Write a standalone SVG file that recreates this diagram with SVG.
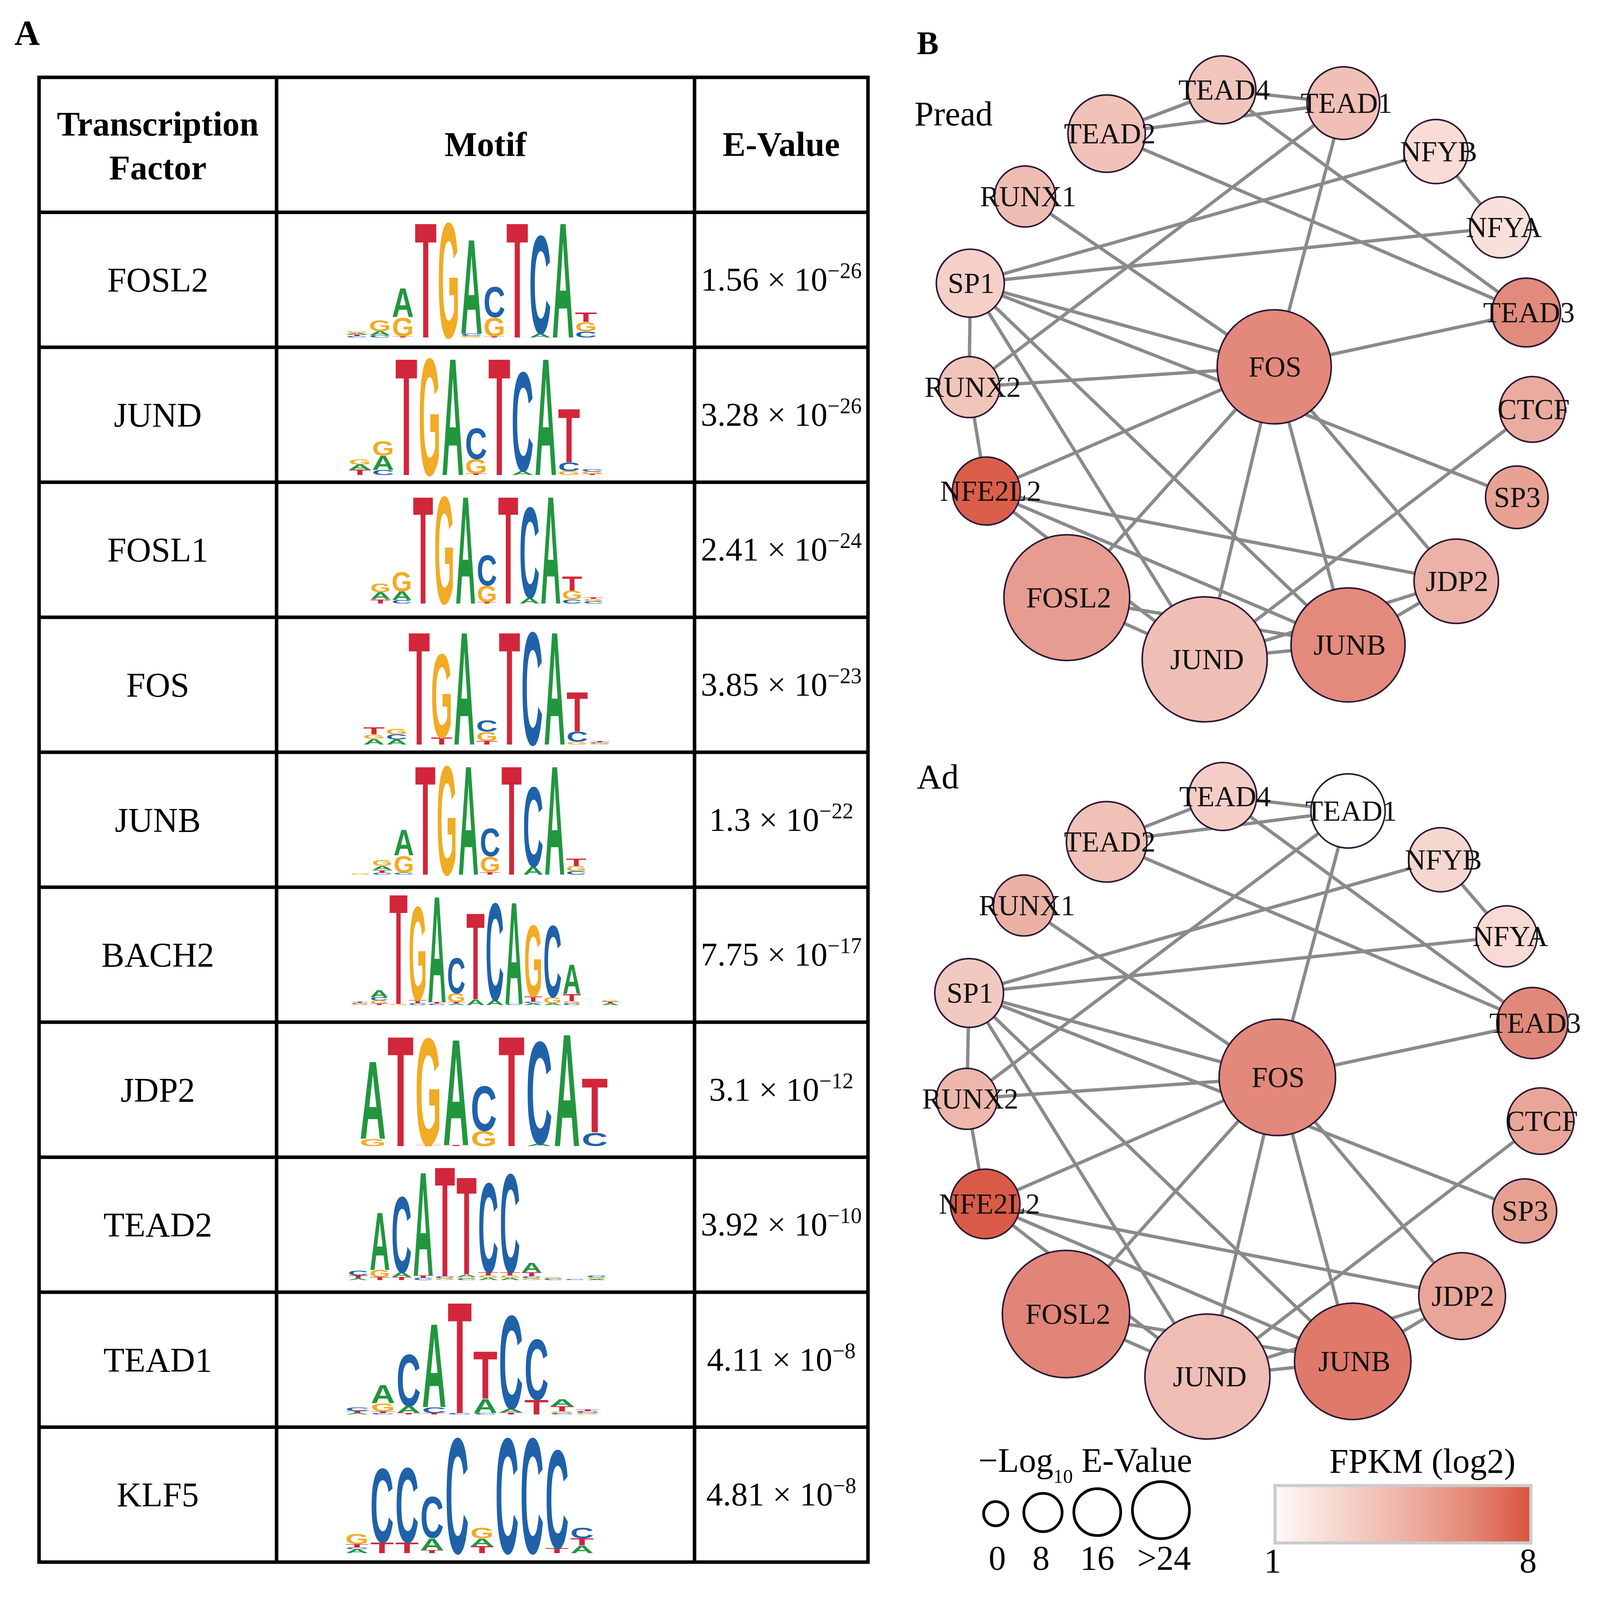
<svg xmlns="http://www.w3.org/2000/svg" width="4128" height="4096" viewBox="0 0 4128 4096">
<defs>
<style>
.tb{fill:none;stroke:#000;stroke-width:9}
.hd{font-family:"Liberation Serif",serif;font-weight:bold;font-size:88px;text-anchor:middle;fill:#000}
.tf{font-family:"Liberation Serif",serif;font-size:88px;text-anchor:middle;fill:#000}
.ev{font-family:"Liberation Serif",serif;font-size:85px;text-anchor:middle;fill:#000}
.sup{font-size:56px}
.lg text{font-family:"Liberation Sans",sans-serif;font-weight:bold}
.A{fill:#22963f}.C{fill:#1f62aa}.G{fill:#f1ab24}.T{fill:#d2263b}
.e{stroke:#8a8a8a;stroke-width:8.5;fill:none}
.n circle{stroke:#2b1838;stroke-width:4}
.n text{font-family:"Liberation Serif",serif;font-size:74px;text-anchor:middle;fill:#111}
.pl{font-family:"Liberation Serif",serif;font-size:88px;fill:#000}
.bl{font-family:"Liberation Serif",serif;font-weight:bold;fill:#000}
.lc{fill:none;stroke:#000;stroke-width:7}
</style>
<linearGradient id="fpkm" x1="0" y1="0" x2="1" y2="0">
<stop offset="0" stop-color="#fefaf9"/>
<stop offset="0.15" stop-color="#f9e4df"/>
<stop offset="0.5" stop-color="#eeb3a6"/>
<stop offset="0.75" stop-color="#e58a79"/>
<stop offset="1" stop-color="#d8553f"/>
</linearGradient>
</defs>
<rect width="4128" height="4096" fill="#fff"/>

<text class="bl" x="37" y="115" font-size="90">A</text>
<text class="bl" x="2347" y="139" font-size="84">B</text>

<g id="table">
<rect class="tb" x="100" y="198" width="2122" height="3801"/>
<path class="tb" d="M708 198V3999M1778 198V3999M100 543.5H2222M100 889H2222M100 1234.6H2222M100 1580.2H2222M100 1925.7H2222M100 2271.3H2222M100 2616.8H2222M100 2962.4H2222M100 3308H2222M100 3653.5H2222"/>
<text class="hd" x="404" y="347">Transcription</text>
<text class="hd" x="404" y="459">Factor</text>
<text class="hd" x="1243" y="399">Motif</text>
<text class="hd" x="2000" y="399">E-Value</text>
<text class="tf" x="404" y="746">FOSL2</text>
<text class="tf" x="404" y="1092">JUND</text>
<text class="tf" x="404" y="1437">FOSL1</text>
<text class="tf" x="404" y="1783">FOS</text>
<text class="tf" x="404" y="2129">JUNB</text>
<text class="tf" x="404" y="2474">BACH2</text>
<text class="tf" x="404" y="2820">JDP2</text>
<text class="tf" x="404" y="3165">TEAD2</text>
<text class="tf" x="404" y="3511">TEAD1</text>
<text class="tf" x="404" y="3856">KLF5</text>
<text class="ev" x="2000" y="744">1.56 × 10<tspan class="sup" dy="-32">−26</tspan></text>
<text class="ev" x="2000" y="1090">3.28 × 10<tspan class="sup" dy="-32">−26</tspan></text>
<text class="ev" x="2000" y="1435">2.41 × 10<tspan class="sup" dy="-32">−24</tspan></text>
<text class="ev" x="2000" y="1781">3.85 × 10<tspan class="sup" dy="-32">−23</tspan></text>
<text class="ev" x="2000" y="2127">1.3 × 10<tspan class="sup" dy="-32">−22</tspan></text>
<text class="ev" x="2000" y="2472">7.75 × 10<tspan class="sup" dy="-32">−17</tspan></text>
<text class="ev" x="2000" y="2818">3.1 × 10<tspan class="sup" dy="-32">−12</tspan></text>
<text class="ev" x="2000" y="3163">3.92 × 10<tspan class="sup" dy="-32">−10</tspan></text>
<text class="ev" x="2000" y="3509">4.11 × 10<tspan class="sup" dy="-32">−8</tspan></text>
<text class="ev" x="2000" y="3854">4.81 × 10<tspan class="sup" dy="-32">−8</tspan></text>
</g>

<g id="logo-FOSL2" class="lg" transform="translate(886,864)">
<text class="C" x="0" y="0" font-size="5.6" textLength="56" lengthAdjust="spacingAndGlyphs">C</text>
<text class="T" x="0" y="-4" font-size="5.6" textLength="56" lengthAdjust="spacingAndGlyphs">T</text>
<text class="A" x="0" y="-8" font-size="5.6" textLength="56" lengthAdjust="spacingAndGlyphs">A</text>
<text class="G" x="0" y="-12" font-size="5.6" textLength="56" lengthAdjust="spacingAndGlyphs">G</text>
<text class="C" x="58.6" y="0" font-size="8.4" textLength="56" lengthAdjust="spacingAndGlyphs">C</text>
<text class="A" x="58.6" y="-6" font-size="14" textLength="56" lengthAdjust="spacingAndGlyphs">A</text>
<text class="G" x="58.6" y="-16" font-size="40.5" textLength="56" lengthAdjust="spacingAndGlyphs">G</text>
<text class="T" x="117.2" y="0" font-size="4.2" textLength="56" lengthAdjust="spacingAndGlyphs">T</text>
<text class="G" x="117.2" y="-3" font-size="68.5" textLength="56" lengthAdjust="spacingAndGlyphs">G</text>
<text class="A" x="117.2" y="-52" font-size="104.8" textLength="56" lengthAdjust="spacingAndGlyphs">A</text>
<text class="T" x="175.8" y="0" font-size="421.9" textLength="56" lengthAdjust="spacingAndGlyphs">T</text>
<text class="G" x="234.4" y="0" font-size="421.9" textLength="56" lengthAdjust="spacingAndGlyphs">G</text>
<text class="G" x="293" y="0" font-size="5.6" textLength="56" lengthAdjust="spacingAndGlyphs">G</text>
<text class="C" x="293" y="-4" font-size="8.4" textLength="56" lengthAdjust="spacingAndGlyphs">C</text>
<text class="A" x="293" y="-10" font-size="346.5" textLength="56" lengthAdjust="spacingAndGlyphs">A</text>
<text class="T" x="351.6" y="0" font-size="4.2" textLength="56" lengthAdjust="spacingAndGlyphs">T</text>
<text class="G" x="351.6" y="-3" font-size="68.5" textLength="56" lengthAdjust="spacingAndGlyphs">G</text>
<text class="C" x="351.6" y="-52" font-size="111.8" textLength="56" lengthAdjust="spacingAndGlyphs">C</text>
<text class="T" x="410.2" y="0" font-size="421.9" textLength="56" lengthAdjust="spacingAndGlyphs">T</text>
<text class="A" x="468.8" y="0" font-size="15.4" textLength="56" lengthAdjust="spacingAndGlyphs">A</text>
<text class="C" x="468.8" y="-11" font-size="359" textLength="56" lengthAdjust="spacingAndGlyphs">C</text>
<text class="A" x="527.4" y="0" font-size="421.9" textLength="56" lengthAdjust="spacingAndGlyphs">A</text>
<text class="C" x="586" y="0" font-size="22.4" textLength="56" lengthAdjust="spacingAndGlyphs">C</text>
<text class="G" x="586" y="-16" font-size="33.5" textLength="56" lengthAdjust="spacingAndGlyphs">G</text>
<text class="T" x="586" y="-40" font-size="34.9" textLength="56" lengthAdjust="spacingAndGlyphs">T</text>
</g>

<g id="logo-JUND" class="lg" transform="translate(893,1216)">
<text class="T" x="0" y="0" font-size="19.6" textLength="56.5" lengthAdjust="spacingAndGlyphs">T</text>
<text class="A" x="0" y="-14" font-size="18.2" textLength="56.5" lengthAdjust="spacingAndGlyphs">A</text>
<text class="G" x="0" y="-27" font-size="18.2" textLength="56.5" lengthAdjust="spacingAndGlyphs">G</text>
<text class="C" x="59.5" y="0" font-size="18.2" textLength="56.5" lengthAdjust="spacingAndGlyphs">C</text>
<text class="A" x="59.5" y="-13" font-size="51.7" textLength="56.5" lengthAdjust="spacingAndGlyphs">A</text>
<text class="G" x="59.5" y="-50" font-size="51.7" textLength="56.5" lengthAdjust="spacingAndGlyphs">G</text>
<text class="T" x="119" y="0" font-size="428.9" textLength="56.5" lengthAdjust="spacingAndGlyphs">T</text>
<text class="G" x="178.5" y="0" font-size="428.9" textLength="56.5" lengthAdjust="spacingAndGlyphs">G</text>
<text class="A" x="238" y="0" font-size="428.9" textLength="56.5" lengthAdjust="spacingAndGlyphs">A</text>
<text class="T" x="297.5" y="0" font-size="5.6" textLength="56.5" lengthAdjust="spacingAndGlyphs">T</text>
<text class="G" x="297.5" y="-4" font-size="51.7" textLength="56.5" lengthAdjust="spacingAndGlyphs">G</text>
<text class="C" x="297.5" y="-41" font-size="113.2" textLength="56.5" lengthAdjust="spacingAndGlyphs">C</text>
<text class="T" x="357" y="0" font-size="428.9" textLength="56.5" lengthAdjust="spacingAndGlyphs">T</text>
<text class="A" x="416.5" y="0" font-size="15.4" textLength="56.5" lengthAdjust="spacingAndGlyphs">A</text>
<text class="C" x="416.5" y="-11" font-size="363.2" textLength="56.5" lengthAdjust="spacingAndGlyphs">C</text>
<text class="A" x="476" y="0" font-size="428.9" textLength="56.5" lengthAdjust="spacingAndGlyphs">A</text>
<text class="G" x="535.5" y="0" font-size="14" textLength="56.5" lengthAdjust="spacingAndGlyphs">G</text>
<text class="C" x="535.5" y="-10" font-size="30.7" textLength="56.5" lengthAdjust="spacingAndGlyphs">C</text>
<text class="T" x="535.5" y="-32" font-size="197" textLength="56.5" lengthAdjust="spacingAndGlyphs">T</text>
<text class="T" x="595" y="0" font-size="4.2" textLength="56.5" lengthAdjust="spacingAndGlyphs">T</text>
<text class="G" x="595" y="-3" font-size="8.4" textLength="56.5" lengthAdjust="spacingAndGlyphs">G</text>
<text class="C" x="595" y="-9" font-size="9.8" textLength="56.5" lengthAdjust="spacingAndGlyphs">C</text>
</g>

<g id="logo-FOSL1" class="lg" transform="translate(948,1545)">
<text class="T" x="0" y="0" font-size="15.4" textLength="52" lengthAdjust="spacingAndGlyphs">T</text>
<text class="A" x="0" y="-11" font-size="25.1" textLength="52" lengthAdjust="spacingAndGlyphs">A</text>
<text class="G" x="0" y="-29" font-size="30.7" textLength="52" lengthAdjust="spacingAndGlyphs">G</text>
<text class="C" x="54.5" y="0" font-size="12.6" textLength="52" lengthAdjust="spacingAndGlyphs">C</text>
<text class="A" x="54.5" y="-9" font-size="30.7" textLength="52" lengthAdjust="spacingAndGlyphs">A</text>
<text class="G" x="54.5" y="-31" font-size="71.2" textLength="52" lengthAdjust="spacingAndGlyphs">G</text>
<text class="T" x="109" y="0" font-size="394" textLength="52" lengthAdjust="spacingAndGlyphs">T</text>
<text class="G" x="163.5" y="0" font-size="394" textLength="52" lengthAdjust="spacingAndGlyphs">G</text>
<text class="A" x="218" y="0" font-size="394" textLength="52" lengthAdjust="spacingAndGlyphs">A</text>
<text class="T" x="272.5" y="0" font-size="5.6" textLength="52" lengthAdjust="spacingAndGlyphs">T</text>
<text class="G" x="272.5" y="-4" font-size="58.7" textLength="52" lengthAdjust="spacingAndGlyphs">G</text>
<text class="C" x="272.5" y="-46" font-size="110.4" textLength="52" lengthAdjust="spacingAndGlyphs">C</text>
<text class="T" x="327" y="0" font-size="394" textLength="52" lengthAdjust="spacingAndGlyphs">T</text>
<text class="A" x="381.5" y="0" font-size="21" textLength="52" lengthAdjust="spacingAndGlyphs">A</text>
<text class="C" x="381.5" y="-15" font-size="332.5" textLength="52" lengthAdjust="spacingAndGlyphs">C</text>
<text class="A" x="436" y="0" font-size="394" textLength="52" lengthAdjust="spacingAndGlyphs">A</text>
<text class="C" x="490.5" y="0" font-size="15.4" textLength="52" lengthAdjust="spacingAndGlyphs">C</text>
<text class="G" x="490.5" y="-11" font-size="30.7" textLength="52" lengthAdjust="spacingAndGlyphs">G</text>
<text class="T" x="490.5" y="-33" font-size="51.7" textLength="52" lengthAdjust="spacingAndGlyphs">T</text>
<text class="C" x="545" y="0" font-size="8.4" textLength="52" lengthAdjust="spacingAndGlyphs">C</text>
<text class="G" x="545" y="-6" font-size="8.4" textLength="52" lengthAdjust="spacingAndGlyphs">G</text>
<text class="T" x="545" y="-12" font-size="5.6" textLength="52" lengthAdjust="spacingAndGlyphs">T</text>
</g>

<g id="logo-FOS" class="lg" transform="translate(930,1906)">
<text class="A" x="0" y="0" font-size="21" textLength="55" lengthAdjust="spacingAndGlyphs">A</text>
<text class="G" x="0" y="-15" font-size="15.4" textLength="55" lengthAdjust="spacingAndGlyphs">G</text>
<text class="T" x="0" y="-26" font-size="25.1" textLength="55" lengthAdjust="spacingAndGlyphs">T</text>
<text class="A" x="57.8" y="0" font-size="18.2" textLength="55" lengthAdjust="spacingAndGlyphs">A</text>
<text class="C" x="57.8" y="-13" font-size="18.2" textLength="55" lengthAdjust="spacingAndGlyphs">C</text>
<text class="G" x="57.8" y="-26" font-size="21" textLength="55" lengthAdjust="spacingAndGlyphs">G</text>
<text class="T" x="115.6" y="0" font-size="413.5" textLength="55" lengthAdjust="spacingAndGlyphs">T</text>
<text class="T" x="173.4" y="0" font-size="25.1" textLength="55" lengthAdjust="spacingAndGlyphs">T</text>
<text class="G" x="173.4" y="-18" font-size="307.3" textLength="55" lengthAdjust="spacingAndGlyphs">G</text>
<text class="A" x="231.2" y="0" font-size="413.5" textLength="55" lengthAdjust="spacingAndGlyphs">A</text>
<text class="T" x="289" y="0" font-size="12.6" textLength="55" lengthAdjust="spacingAndGlyphs">T</text>
<text class="G" x="289" y="-9" font-size="33.5" textLength="55" lengthAdjust="spacingAndGlyphs">G</text>
<text class="C" x="289" y="-33" font-size="43.3" textLength="55" lengthAdjust="spacingAndGlyphs">C</text>
<text class="T" x="346.8" y="0" font-size="413.5" textLength="55" lengthAdjust="spacingAndGlyphs">T</text>
<text class="C" x="404.6" y="0" font-size="413.5" textLength="55" lengthAdjust="spacingAndGlyphs">C</text>
<text class="A" x="462.4" y="0" font-size="413.5" textLength="55" lengthAdjust="spacingAndGlyphs">A</text>
<text class="G" x="520.2" y="0" font-size="9.8" textLength="55" lengthAdjust="spacingAndGlyphs">G</text>
<text class="C" x="520.2" y="-7" font-size="36.3" textLength="55" lengthAdjust="spacingAndGlyphs">C</text>
<text class="T" x="520.2" y="-33" font-size="145.3" textLength="55" lengthAdjust="spacingAndGlyphs">T</text>
<text class="G" x="578" y="0" font-size="4.2" textLength="55" lengthAdjust="spacingAndGlyphs">G</text>
<text class="C" x="578" y="-3" font-size="4.2" textLength="55" lengthAdjust="spacingAndGlyphs">C</text>
<text class="T" x="578" y="-6" font-size="4.2" textLength="55" lengthAdjust="spacingAndGlyphs">T</text>
</g>

<g id="logo-JUNB" class="lg" transform="translate(897,2239)">
<text class="G" x="0" y="0" font-size="4.2" textLength="52.5" lengthAdjust="spacingAndGlyphs">G</text>
<text class="C" x="55.2" y="0" font-size="7" textLength="52.5" lengthAdjust="spacingAndGlyphs">C</text>
<text class="T" x="55.2" y="-5" font-size="9.8" textLength="52.5" lengthAdjust="spacingAndGlyphs">T</text>
<text class="A" x="55.2" y="-12" font-size="15.4" textLength="52.5" lengthAdjust="spacingAndGlyphs">A</text>
<text class="G" x="55.2" y="-23" font-size="21" textLength="52.5" lengthAdjust="spacingAndGlyphs">G</text>
<text class="C" x="110.4" y="0" font-size="7" textLength="52.5" lengthAdjust="spacingAndGlyphs">C</text>
<text class="G" x="110.4" y="-5" font-size="61.5" textLength="52.5" lengthAdjust="spacingAndGlyphs">G</text>
<text class="A" x="110.4" y="-49" font-size="95" textLength="52.5" lengthAdjust="spacingAndGlyphs">A</text>
<text class="T" x="165.6" y="0" font-size="399.5" textLength="52.5" lengthAdjust="spacingAndGlyphs">T</text>
<text class="G" x="220.8" y="0" font-size="399.5" textLength="52.5" lengthAdjust="spacingAndGlyphs">G</text>
<text class="A" x="276" y="0" font-size="399.5" textLength="52.5" lengthAdjust="spacingAndGlyphs">A</text>
<text class="T" x="331.2" y="0" font-size="9.8" textLength="52.5" lengthAdjust="spacingAndGlyphs">T</text>
<text class="G" x="331.2" y="-7" font-size="55.9" textLength="52.5" lengthAdjust="spacingAndGlyphs">G</text>
<text class="C" x="331.2" y="-47" font-size="102" textLength="52.5" lengthAdjust="spacingAndGlyphs">C</text>
<text class="T" x="386.4" y="0" font-size="399.5" textLength="52.5" lengthAdjust="spacingAndGlyphs">T</text>
<text class="A" x="441.6" y="0" font-size="29.3" textLength="52.5" lengthAdjust="spacingAndGlyphs">A</text>
<text class="C" x="441.6" y="-21" font-size="292" textLength="52.5" lengthAdjust="spacingAndGlyphs">C</text>
<text class="A" x="496.8" y="0" font-size="399.5" textLength="52.5" lengthAdjust="spacingAndGlyphs">A</text>
<text class="C" x="552" y="0" font-size="12.6" textLength="52.5" lengthAdjust="spacingAndGlyphs">C</text>
<text class="G" x="552" y="-9" font-size="18.2" textLength="52.5" lengthAdjust="spacingAndGlyphs">G</text>
<text class="T" x="552" y="-22" font-size="27.9" textLength="52.5" lengthAdjust="spacingAndGlyphs">T</text>
</g>

<g id="logo-BACH2" class="lg" transform="translate(898,2573)">
<text class="G" x="0" y="0" font-size="4.2" textLength="47" lengthAdjust="spacingAndGlyphs">G</text>
<text class="C" x="0" y="-3" font-size="4.2" textLength="47" lengthAdjust="spacingAndGlyphs">C</text>
<text class="T" x="0" y="-6" font-size="2.8" textLength="47" lengthAdjust="spacingAndGlyphs">T</text>
<text class="T" x="49.3" y="0" font-size="5.6" textLength="47" lengthAdjust="spacingAndGlyphs">T</text>
<text class="G" x="49.3" y="-4" font-size="11.2" textLength="47" lengthAdjust="spacingAndGlyphs">G</text>
<text class="C" x="49.3" y="-12" font-size="11.2" textLength="47" lengthAdjust="spacingAndGlyphs">C</text>
<text class="A" x="49.3" y="-20" font-size="25.1" textLength="47" lengthAdjust="spacingAndGlyphs">A</text>
<text class="G" x="98.6" y="0" font-size="4.2" textLength="47" lengthAdjust="spacingAndGlyphs">G</text>
<text class="T" x="98.6" y="-3" font-size="403.7" textLength="47" lengthAdjust="spacingAndGlyphs">T</text>
<text class="C" x="147.9" y="0" font-size="7" textLength="47" lengthAdjust="spacingAndGlyphs">C</text>
<text class="T" x="147.9" y="-5" font-size="11.2" textLength="47" lengthAdjust="spacingAndGlyphs">T</text>
<text class="G" x="147.9" y="-13" font-size="343.7" textLength="47" lengthAdjust="spacingAndGlyphs">G</text>
<text class="C" x="197.2" y="0" font-size="5.6" textLength="47" lengthAdjust="spacingAndGlyphs">C</text>
<text class="T" x="197.2" y="-4" font-size="5.6" textLength="47" lengthAdjust="spacingAndGlyphs">T</text>
<text class="A" x="197.2" y="-8" font-size="388.4" textLength="47" lengthAdjust="spacingAndGlyphs">A</text>
<text class="A" x="246.5" y="0" font-size="5.6" textLength="47" lengthAdjust="spacingAndGlyphs">A</text>
<text class="T" x="246.5" y="-4" font-size="5.6" textLength="47" lengthAdjust="spacingAndGlyphs">T</text>
<text class="G" x="246.5" y="-8" font-size="30.7" textLength="47" lengthAdjust="spacingAndGlyphs">G</text>
<text class="C" x="246.5" y="-30" font-size="129.9" textLength="47" lengthAdjust="spacingAndGlyphs">C</text>
<text class="A" x="295.8" y="0" font-size="21" textLength="47" lengthAdjust="spacingAndGlyphs">A</text>
<text class="T" x="295.8" y="-15" font-size="317.1" textLength="47" lengthAdjust="spacingAndGlyphs">T</text>
<text class="A" x="345.1" y="0" font-size="18.2" textLength="47" lengthAdjust="spacingAndGlyphs">A</text>
<text class="C" x="345.1" y="-13" font-size="356.2" textLength="47" lengthAdjust="spacingAndGlyphs">C</text>
<text class="C" x="394.4" y="0" font-size="4.2" textLength="47" lengthAdjust="spacingAndGlyphs">C</text>
<text class="A" x="394.4" y="-3" font-size="374.4" textLength="47" lengthAdjust="spacingAndGlyphs">A</text>
<text class="A" x="443.7" y="0" font-size="7" textLength="47" lengthAdjust="spacingAndGlyphs">A</text>
<text class="C" x="443.7" y="-5" font-size="5.6" textLength="47" lengthAdjust="spacingAndGlyphs">C</text>
<text class="T" x="443.7" y="-9" font-size="18.2" textLength="47" lengthAdjust="spacingAndGlyphs">T</text>
<text class="G" x="443.7" y="-22" font-size="262.6" textLength="47" lengthAdjust="spacingAndGlyphs">G</text>
<text class="A" x="493" y="0" font-size="7" textLength="47" lengthAdjust="spacingAndGlyphs">A</text>
<text class="G" x="493" y="-5" font-size="22.4" textLength="47" lengthAdjust="spacingAndGlyphs">G</text>
<text class="C" x="493" y="-21" font-size="262.6" textLength="47" lengthAdjust="spacingAndGlyphs">C</text>
<text class="C" x="542.3" y="0" font-size="7" textLength="47" lengthAdjust="spacingAndGlyphs">C</text>
<text class="G" x="542.3" y="-5" font-size="7" textLength="47" lengthAdjust="spacingAndGlyphs">G</text>
<text class="T" x="542.3" y="-10" font-size="26.5" textLength="47" lengthAdjust="spacingAndGlyphs">T</text>
<text class="A" x="542.3" y="-29" font-size="107.6" textLength="47" lengthAdjust="spacingAndGlyphs">A</text>
<text class="A" x="640.9" y="0" font-size="7" textLength="47" lengthAdjust="spacingAndGlyphs">A</text>
<text class="T" x="640.9" y="-5" font-size="5.6" textLength="47" lengthAdjust="spacingAndGlyphs">T</text>
<text class="G" x="640.9" y="-9" font-size="5.6" textLength="47" lengthAdjust="spacingAndGlyphs">G</text>
</g>

<g id="logo-JDP2" class="lg" transform="translate(921,2934)">
<text class="G" x="0" y="0" font-size="26.5" textLength="67" lengthAdjust="spacingAndGlyphs">G</text>
<text class="A" x="0" y="-19" font-size="285" textLength="67" lengthAdjust="spacingAndGlyphs">A</text>
<text class="T" x="71" y="0" font-size="403.7" textLength="67" lengthAdjust="spacingAndGlyphs">T</text>
<text class="T" x="142" y="0" font-size="4.2" textLength="67" lengthAdjust="spacingAndGlyphs">T</text>
<text class="G" x="142" y="-3" font-size="392.6" textLength="67" lengthAdjust="spacingAndGlyphs">G</text>
<text class="T" x="213" y="0" font-size="4.2" textLength="67" lengthAdjust="spacingAndGlyphs">T</text>
<text class="A" x="213" y="-3" font-size="388.4" textLength="67" lengthAdjust="spacingAndGlyphs">A</text>
<text class="G" x="284" y="0" font-size="55.9" textLength="67" lengthAdjust="spacingAndGlyphs">G</text>
<text class="C" x="284" y="-40" font-size="163.4" textLength="67" lengthAdjust="spacingAndGlyphs">C</text>
<text class="T" x="355" y="0" font-size="403.7" textLength="67" lengthAdjust="spacingAndGlyphs">T</text>
<text class="A" x="426" y="0" font-size="8.4" textLength="67" lengthAdjust="spacingAndGlyphs">A</text>
<text class="C" x="426" y="-6" font-size="375.8" textLength="67" lengthAdjust="spacingAndGlyphs">C</text>
<text class="A" x="497" y="0" font-size="412.1" textLength="67" lengthAdjust="spacingAndGlyphs">A</text>
<text class="C" x="568" y="0" font-size="48.9" textLength="67" lengthAdjust="spacingAndGlyphs">C</text>
<text class="T" x="568" y="-35" font-size="198.4" textLength="67" lengthAdjust="spacingAndGlyphs">T</text>
</g>

<g id="logo-TEAD2" class="lg" transform="translate(891,3277)">
<text class="A" x="0" y="0" font-size="5.6" textLength="52" lengthAdjust="spacingAndGlyphs">A</text>
<text class="T" x="0" y="-4" font-size="11.2" textLength="52" lengthAdjust="spacingAndGlyphs">T</text>
<text class="C" x="0" y="-12" font-size="16.8" textLength="52" lengthAdjust="spacingAndGlyphs">C</text>
<text class="T" x="55.5" y="0" font-size="11.2" textLength="52" lengthAdjust="spacingAndGlyphs">T</text>
<text class="G" x="55.5" y="-8" font-size="25.1" textLength="52" lengthAdjust="spacingAndGlyphs">G</text>
<text class="A" x="55.5" y="-26" font-size="212.3" textLength="52" lengthAdjust="spacingAndGlyphs">A</text>
<text class="T" x="111" y="0" font-size="11.2" textLength="52" lengthAdjust="spacingAndGlyphs">T</text>
<text class="A" x="111" y="-8" font-size="16.8" textLength="52" lengthAdjust="spacingAndGlyphs">A</text>
<text class="C" x="111" y="-20" font-size="278" textLength="52" lengthAdjust="spacingAndGlyphs">C</text>
<text class="C" x="166.5" y="0" font-size="8.4" textLength="52" lengthAdjust="spacingAndGlyphs">C</text>
<text class="T" x="166.5" y="-6" font-size="8.4" textLength="52" lengthAdjust="spacingAndGlyphs">T</text>
<text class="A" x="166.5" y="-12" font-size="380" textLength="52" lengthAdjust="spacingAndGlyphs">A</text>
<text class="G" x="222" y="0" font-size="7" textLength="52" lengthAdjust="spacingAndGlyphs">G</text>
<text class="C" x="222" y="-5" font-size="7" textLength="52" lengthAdjust="spacingAndGlyphs">C</text>
<text class="T" x="222" y="-10" font-size="402.3" textLength="52" lengthAdjust="spacingAndGlyphs">T</text>
<text class="C" x="277.5" y="0" font-size="5.6" textLength="52" lengthAdjust="spacingAndGlyphs">C</text>
<text class="G" x="277.5" y="-4" font-size="5.6" textLength="52" lengthAdjust="spacingAndGlyphs">G</text>
<text class="A" x="277.5" y="-8" font-size="9.8" textLength="52" lengthAdjust="spacingAndGlyphs">A</text>
<text class="T" x="277.5" y="-15" font-size="357.6" textLength="52" lengthAdjust="spacingAndGlyphs">T</text>
<text class="A" x="333" y="0" font-size="8.4" textLength="52" lengthAdjust="spacingAndGlyphs">A</text>
<text class="G" x="333" y="-6" font-size="8.4" textLength="52" lengthAdjust="spacingAndGlyphs">G</text>
<text class="T" x="333" y="-12" font-size="11.2" textLength="52" lengthAdjust="spacingAndGlyphs">T</text>
<text class="C" x="333" y="-20" font-size="328.3" textLength="52" lengthAdjust="spacingAndGlyphs">C</text>
<text class="A" x="388.5" y="0" font-size="8.4" textLength="52" lengthAdjust="spacingAndGlyphs">A</text>
<text class="G" x="388.5" y="-6" font-size="8.4" textLength="52" lengthAdjust="spacingAndGlyphs">G</text>
<text class="T" x="388.5" y="-12" font-size="11.2" textLength="52" lengthAdjust="spacingAndGlyphs">T</text>
<text class="C" x="388.5" y="-20" font-size="361.8" textLength="52" lengthAdjust="spacingAndGlyphs">C</text>
<text class="G" x="444" y="0" font-size="7" textLength="52" lengthAdjust="spacingAndGlyphs">G</text>
<text class="C" x="444" y="-5" font-size="7" textLength="52" lengthAdjust="spacingAndGlyphs">C</text>
<text class="T" x="444" y="-10" font-size="14" textLength="52" lengthAdjust="spacingAndGlyphs">T</text>
<text class="A" x="444" y="-20" font-size="34.9" textLength="52" lengthAdjust="spacingAndGlyphs">A</text>
<text class="C" x="499.5" y="0" font-size="5.6" textLength="52" lengthAdjust="spacingAndGlyphs">C</text>
<text class="G" x="499.5" y="-4" font-size="5.6" textLength="52" lengthAdjust="spacingAndGlyphs">G</text>
<text class="C" x="555" y="0" font-size="2.8" textLength="52" lengthAdjust="spacingAndGlyphs">C</text>
<text class="A" x="610.5" y="0" font-size="4.2" textLength="52" lengthAdjust="spacingAndGlyphs">A</text>
<text class="G" x="610.5" y="-3" font-size="5.6" textLength="52" lengthAdjust="spacingAndGlyphs">G</text>
<text class="C" x="610.5" y="-7" font-size="7" textLength="52" lengthAdjust="spacingAndGlyphs">C</text>
</g>

<g id="logo-TEAD1" class="lg" transform="translate(884,3621)">
<text class="A" x="0" y="0" font-size="5.6" textLength="62" lengthAdjust="spacingAndGlyphs">A</text>
<text class="T" x="0" y="-4" font-size="7" textLength="62" lengthAdjust="spacingAndGlyphs">T</text>
<text class="C" x="0" y="-9" font-size="12.6" textLength="62" lengthAdjust="spacingAndGlyphs">C</text>
<text class="C" x="65.5" y="0" font-size="5.6" textLength="62" lengthAdjust="spacingAndGlyphs">C</text>
<text class="T" x="65.5" y="-4" font-size="5.6" textLength="62" lengthAdjust="spacingAndGlyphs">T</text>
<text class="G" x="65.5" y="-8" font-size="29.3" textLength="62" lengthAdjust="spacingAndGlyphs">G</text>
<text class="A" x="65.5" y="-29" font-size="67.1" textLength="62" lengthAdjust="spacingAndGlyphs">A</text>
<text class="T" x="131" y="0" font-size="5.6" textLength="62" lengthAdjust="spacingAndGlyphs">T</text>
<text class="A" x="131" y="-4" font-size="25.1" textLength="62" lengthAdjust="spacingAndGlyphs">A</text>
<text class="C" x="131" y="-22" font-size="188.6" textLength="62" lengthAdjust="spacingAndGlyphs">C</text>
<text class="T" x="196.5" y="0" font-size="5.6" textLength="62" lengthAdjust="spacingAndGlyphs">T</text>
<text class="C" x="196.5" y="-4" font-size="21" textLength="62" lengthAdjust="spacingAndGlyphs">C</text>
<text class="A" x="196.5" y="-19" font-size="306" textLength="62" lengthAdjust="spacingAndGlyphs">A</text>
<text class="C" x="262" y="0" font-size="5.6" textLength="62" lengthAdjust="spacingAndGlyphs">C</text>
<text class="T" x="262" y="-4" font-size="406.5" textLength="62" lengthAdjust="spacingAndGlyphs">T</text>
<text class="C" x="327.5" y="0" font-size="5.6" textLength="62" lengthAdjust="spacingAndGlyphs">C</text>
<text class="A" x="327.5" y="-4" font-size="50.3" textLength="62" lengthAdjust="spacingAndGlyphs">A</text>
<text class="T" x="327.5" y="-40" font-size="174.6" textLength="62" lengthAdjust="spacingAndGlyphs">T</text>
<text class="T" x="393" y="0" font-size="7" textLength="62" lengthAdjust="spacingAndGlyphs">T</text>
<text class="A" x="393" y="-5" font-size="14" textLength="62" lengthAdjust="spacingAndGlyphs">A</text>
<text class="C" x="393" y="-15" font-size="342.3" textLength="62" lengthAdjust="spacingAndGlyphs">C</text>
<text class="T" x="458.5" y="0" font-size="53.1" textLength="62" lengthAdjust="spacingAndGlyphs">T</text>
<text class="C" x="458.5" y="-38" font-size="220.7" textLength="62" lengthAdjust="spacingAndGlyphs">C</text>
<text class="C" x="524" y="0" font-size="5.6" textLength="62" lengthAdjust="spacingAndGlyphs">C</text>
<text class="G" x="524" y="-4" font-size="5.6" textLength="62" lengthAdjust="spacingAndGlyphs">G</text>
<text class="T" x="524" y="-8" font-size="18.2" textLength="62" lengthAdjust="spacingAndGlyphs">T</text>
<text class="A" x="524" y="-21" font-size="25.1" textLength="62" lengthAdjust="spacingAndGlyphs">A</text>
<text class="G" x="589.5" y="0" font-size="5.6" textLength="62" lengthAdjust="spacingAndGlyphs">G</text>
<text class="C" x="589.5" y="-4" font-size="7" textLength="62" lengthAdjust="spacingAndGlyphs">C</text>
<text class="T" x="589.5" y="-9" font-size="5.6" textLength="62" lengthAdjust="spacingAndGlyphs">T</text>
</g>

<g id="logo-KLF5" class="lg" transform="translate(884,3976)">
<text class="A" x="0" y="0" font-size="14" textLength="60" lengthAdjust="spacingAndGlyphs">A</text>
<text class="C" x="0" y="-10" font-size="7" textLength="60" lengthAdjust="spacingAndGlyphs">C</text>
<text class="T" x="0" y="-15" font-size="11.2" textLength="60" lengthAdjust="spacingAndGlyphs">T</text>
<text class="G" x="0" y="-23" font-size="36.3" textLength="60" lengthAdjust="spacingAndGlyphs">G</text>
<text class="T" x="64" y="0" font-size="39.1" textLength="60" lengthAdjust="spacingAndGlyphs">T</text>
<text class="C" x="64" y="-28" font-size="271" textLength="60" lengthAdjust="spacingAndGlyphs">C</text>
<text class="T" x="128" y="0" font-size="39.1" textLength="60" lengthAdjust="spacingAndGlyphs">T</text>
<text class="C" x="128" y="-28" font-size="273.8" textLength="60" lengthAdjust="spacingAndGlyphs">C</text>
<text class="T" x="192" y="0" font-size="11.2" textLength="60" lengthAdjust="spacingAndGlyphs">T</text>
<text class="A" x="192" y="-8" font-size="43.3" textLength="60" lengthAdjust="spacingAndGlyphs">A</text>
<text class="C" x="192" y="-39" font-size="149.5" textLength="60" lengthAdjust="spacingAndGlyphs">C</text>
<text class="C" x="256" y="0" font-size="423.3" textLength="60" lengthAdjust="spacingAndGlyphs">C</text>
<text class="T" x="320" y="0" font-size="25.1" textLength="60" lengthAdjust="spacingAndGlyphs">T</text>
<text class="A" x="320" y="-18" font-size="27.9" textLength="60" lengthAdjust="spacingAndGlyphs">A</text>
<text class="G" x="320" y="-38" font-size="39.1" textLength="60" lengthAdjust="spacingAndGlyphs">G</text>
<text class="C" x="384" y="0" font-size="423.3" textLength="60" lengthAdjust="spacingAndGlyphs">C</text>
<text class="C" x="448" y="0" font-size="423.3" textLength="60" lengthAdjust="spacingAndGlyphs">C</text>
<text class="T" x="512" y="0" font-size="18.2" textLength="60" lengthAdjust="spacingAndGlyphs">T</text>
<text class="C" x="512" y="-13" font-size="360.4" textLength="60" lengthAdjust="spacingAndGlyphs">C</text>
<text class="A" x="576" y="0" font-size="27.9" textLength="60" lengthAdjust="spacingAndGlyphs">A</text>
<text class="T" x="576" y="-20" font-size="25.1" textLength="60" lengthAdjust="spacingAndGlyphs">T</text>
<text class="C" x="576" y="-38" font-size="39.1" textLength="60" lengthAdjust="spacingAndGlyphs">C</text>
</g>

<text class="pl" x="2341" y="321">Pread</text>
<text class="pl" x="2347" y="2018">Ad</text>

<g id="edges-pread" class="e">
<line x1="2833" y1="342" x2="3128" y2="230"/>
<line x1="2833" y1="342" x2="3439" y2="264"/>
<line x1="3128" y1="230" x2="3439" y2="264"/>
<line x1="3128" y1="230" x2="3907" y2="800"/>
<line x1="2833" y1="342" x2="3907" y2="800"/>
<line x1="3439" y1="264" x2="2481" y2="991"/>
<line x1="3439" y1="264" x2="3262" y2="939"/>
<line x1="3676" y1="388" x2="2484" y2="725"/>
<line x1="3676" y1="388" x2="3841" y2="582"/>
<line x1="3841" y1="582" x2="2484" y2="725"/>
<line x1="2624" y1="503" x2="3262" y2="939"/>
<line x1="2484" y1="725" x2="3262" y2="939"/>
<line x1="2484" y1="725" x2="3883" y2="1273"/>
<line x1="2484" y1="725" x2="2481" y2="991"/>
<line x1="2484" y1="725" x2="3084" y2="1688"/>
<line x1="2484" y1="725" x2="3451" y2="1651"/>
<line x1="2481" y1="991" x2="3262" y2="939"/>
<line x1="2481" y1="991" x2="2525" y2="1257"/>
<line x1="2525" y1="1257" x2="3262" y2="939"/>
<line x1="2525" y1="1257" x2="3728" y2="1488"/>
<line x1="2525" y1="1257" x2="3451" y2="1651"/>
<line x1="2525" y1="1257" x2="3084" y2="1688"/>
<line x1="3262" y1="939" x2="3907" y2="800"/>
<line x1="3262" y1="939" x2="2731" y2="1530"/>
<line x1="3262" y1="939" x2="3084" y2="1688"/>
<line x1="3262" y1="939" x2="3451" y2="1651"/>
<line x1="3262" y1="939" x2="3728" y2="1488"/>
<line x1="3923" y1="1048" x2="3084" y2="1688"/>
<line x1="2731" y1="1530" x2="3084" y2="1688"/>
<line x1="2731" y1="1530" x2="3451" y2="1651"/>
<line x1="3084" y1="1688" x2="3451" y2="1651"/>
<line x1="3084" y1="1688" x2="3728" y2="1488"/>
<line x1="3451" y1="1651" x2="3728" y2="1488"/>
</g>

<g id="edges-ad" class="e">
<line x1="2833" y1="2155" x2="3130" y2="2039"/>
<line x1="2833" y1="2155" x2="3451" y2="2076"/>
<line x1="3130" y1="2039" x2="3451" y2="2076"/>
<line x1="3130" y1="2039" x2="3923" y2="2619"/>
<line x1="2833" y1="2155" x2="3923" y2="2619"/>
<line x1="3451" y1="2076" x2="2475" y2="2813"/>
<line x1="3451" y1="2076" x2="3270" y2="2758"/>
<line x1="3688" y1="2201" x2="2481" y2="2542"/>
<line x1="3688" y1="2201" x2="3857" y2="2397"/>
<line x1="3857" y1="2397" x2="2481" y2="2542"/>
<line x1="2621" y1="2318" x2="3270" y2="2758"/>
<line x1="2481" y1="2542" x2="3270" y2="2758"/>
<line x1="2481" y1="2542" x2="3903" y2="3100"/>
<line x1="2481" y1="2542" x2="2475" y2="2813"/>
<line x1="2481" y1="2542" x2="3091" y2="3524"/>
<line x1="2481" y1="2542" x2="3463" y2="3485"/>
<line x1="2475" y1="2813" x2="3270" y2="2758"/>
<line x1="2475" y1="2813" x2="2522" y2="3082"/>
<line x1="2522" y1="3082" x2="3270" y2="2758"/>
<line x1="2522" y1="3082" x2="3743" y2="3318"/>
<line x1="2522" y1="3082" x2="3463" y2="3485"/>
<line x1="2522" y1="3082" x2="3091" y2="3524"/>
<line x1="3270" y1="2758" x2="3923" y2="2619"/>
<line x1="3270" y1="2758" x2="2729" y2="3364"/>
<line x1="3270" y1="2758" x2="3091" y2="3524"/>
<line x1="3270" y1="2758" x2="3463" y2="3485"/>
<line x1="3270" y1="2758" x2="3743" y2="3318"/>
<line x1="3944" y1="2870" x2="3091" y2="3524"/>
<line x1="2729" y1="3364" x2="3091" y2="3524"/>
<line x1="2729" y1="3364" x2="3463" y2="3485"/>
<line x1="3091" y1="3524" x2="3463" y2="3485"/>
<line x1="3091" y1="3524" x2="3743" y2="3318"/>
<line x1="3463" y1="3485" x2="3743" y2="3318"/>
</g>

<g id="nodes-pread">
<g id="p-TEAD4" class="n"><circle cx="3128" cy="230" r="87" fill="#f2c5bc"/><text x="3134" y="255">TEAD4</text></g>
<g id="p-TEAD1" class="n"><circle cx="3439" cy="264" r="93" fill="#f0c0b6"/><text x="3447" y="289">TEAD1</text></g>
<g id="p-TEAD2" class="n"><circle cx="2833" cy="342" r="99" fill="#f0c2b8"/><text x="2841" y="367">TEAD2</text></g>
<g id="p-NFYB" class="n"><circle cx="3676" cy="388" r="82" fill="#f8dcd5"/><text x="3683" y="413">NFYB</text></g>
<g id="p-RUNX1" class="n"><circle cx="2624" cy="503" r="78" fill="#efbcb2"/><text x="2632" y="528">RUNX1</text></g>
<g id="p-NFYA" class="n"><circle cx="3841" cy="582" r="78" fill="#f9e1db"/><text x="3850" y="607">NFYA</text></g>
<g id="p-SP1" class="n"><circle cx="2484" cy="725" r="87" fill="#f5d0c8"/><text x="2486" y="750">SP1</text></g>
<g id="p-TEAD3" class="n"><circle cx="3907" cy="800" r="88" fill="#e18b7d"/><text x="3914" y="825">TEAD3</text></g>
<g id="p-FOS" class="n"><circle cx="3262" cy="939" r="146" fill="#e3897b"/><text x="3264" y="964">FOS</text></g>
<g id="p-RUNX2" class="n"><circle cx="2481" cy="991" r="78" fill="#f1c4ba"/><text x="2490" y="1016">RUNX2</text></g>
<g id="p-CTCF" class="n"><circle cx="3923" cy="1048" r="84" fill="#ebaca0"/><text x="3926" y="1073">CTCF</text></g>
<g id="p-NFE2L2" class="n"><circle cx="2525" cy="1257" r="87" fill="#db5e4b"/><text x="2536" y="1282">NFE2L2</text></g>
<g id="p-SP3" class="n"><circle cx="3883" cy="1273" r="80" fill="#e7a294"/><text x="3884" y="1298">SP3</text></g>
<g id="p-JDP2" class="n"><circle cx="3728" cy="1488" r="108" fill="#ecb2a7"/><text x="3730" y="1513">JDP2</text></g>
<g id="p-FOSL2" class="n"><circle cx="2731" cy="1530" r="161" fill="#e69c90"/><text x="2736" y="1555">FOSL2</text></g>
<g id="p-JUND" class="n"><circle cx="3084" cy="1688" r="160" fill="#efbfb6"/><text x="3090" y="1713">JUND</text></g>
<g id="p-JUNB" class="n"><circle cx="3451" cy="1651" r="146" fill="#e38a7d"/><text x="3455" y="1676">JUNB</text></g>
</g>

<g id="nodes-ad">
<g id="a-TEAD4" class="n"><circle cx="3130" cy="2039" r="87" fill="#f4cec6"/><text x="3136" y="2064">TEAD4</text></g>
<g id="a-TEAD1" class="n"><circle cx="3451" cy="2076" r="95" fill="#ffffff"/><text x="3459" y="2101">TEAD1</text></g>
<g id="a-TEAD2" class="n"><circle cx="2833" cy="2155" r="103" fill="#f0c1b7"/><text x="2841" y="2180">TEAD2</text></g>
<g id="a-NFYB" class="n"><circle cx="3688" cy="2201" r="82" fill="#f6d7d0"/><text x="3695" y="2226">NFYB</text></g>
<g id="a-RUNX1" class="n"><circle cx="2621" cy="2318" r="78" fill="#ebb1a5"/><text x="2629" y="2343">RUNX1</text></g>
<g id="a-NFYA" class="n"><circle cx="3857" cy="2397" r="78" fill="#f7dbd4"/><text x="3866" y="2422">NFYA</text></g>
<g id="a-SP1" class="n"><circle cx="2481" cy="2542" r="88" fill="#f2c9c0"/><text x="2483" y="2567">SP1</text></g>
<g id="a-TEAD3" class="n"><circle cx="3923" cy="2619" r="91" fill="#e0897b"/><text x="3930" y="2644">TEAD3</text></g>
<g id="a-FOS" class="n"><circle cx="3270" cy="2758" r="149" fill="#e3897b"/><text x="3272" y="2783">FOS</text></g>
<g id="a-RUNX2" class="n"><circle cx="2475" cy="2813" r="78" fill="#edb7ab"/><text x="2484" y="2838">RUNX2</text></g>
<g id="a-CTCF" class="n"><circle cx="3944" cy="2870" r="85" fill="#e9a698"/><text x="3947" y="2895">CTCF</text></g>
<g id="a-NFE2L2" class="n"><circle cx="2522" cy="3082" r="89" fill="#d95b47"/><text x="2533" y="3107">NFE2L2</text></g>
<g id="a-SP3" class="n"><circle cx="3903" cy="3100" r="82" fill="#e6a092"/><text x="3904" y="3125">SP3</text></g>
<g id="a-JDP2" class="n"><circle cx="3743" cy="3318" r="111" fill="#e9a598"/><text x="3745" y="3343">JDP2</text></g>
<g id="a-FOSL2" class="n"><circle cx="2729" cy="3364" r="163" fill="#e08578"/><text x="2734" y="3389">FOSL2</text></g>
<g id="a-JUND" class="n"><circle cx="3091" cy="3524" r="160" fill="#efbdb4"/><text x="3097" y="3549">JUND</text></g>
<g id="a-JUNB" class="n"><circle cx="3463" cy="3485" r="149" fill="#df796a"/><text x="3467" y="3510">JUNB</text></g>
</g>

<g id="legend-size">
<text class="pl" x="2505" y="3768">−Log<tspan font-size="50" dy="28">10</tspan><tspan dy="-28"> E-Value</tspan></text>
<circle class="lc" cx="2549" cy="3875" r="31"/>
<circle class="lc" cx="2670" cy="3872" r="49"/>
<circle class="lc" cx="2809" cy="3871" r="60"/>
<circle class="lc" cx="2972" cy="3866" r="73"/>
<text class="tf" x="2553" y="4018">0</text>
<text class="tf" x="2665" y="4018">8</text>
<text class="tf" x="2809" y="4018">16</text>
<text class="tf" x="2980" y="4018">&gt;24</text>
</g>

<g id="legend-color">
<text class="pl" x="3403" y="3770">FPKM (log2)</text>
<rect x="3264" y="3803" width="655" height="147" fill="url(#fpkm)" stroke="#cccccc" stroke-width="8"/>
<text class="tf" x="3258" y="4025">1</text>
<text class="tf" x="3912" y="4025">8</text>
</g>
</svg>
